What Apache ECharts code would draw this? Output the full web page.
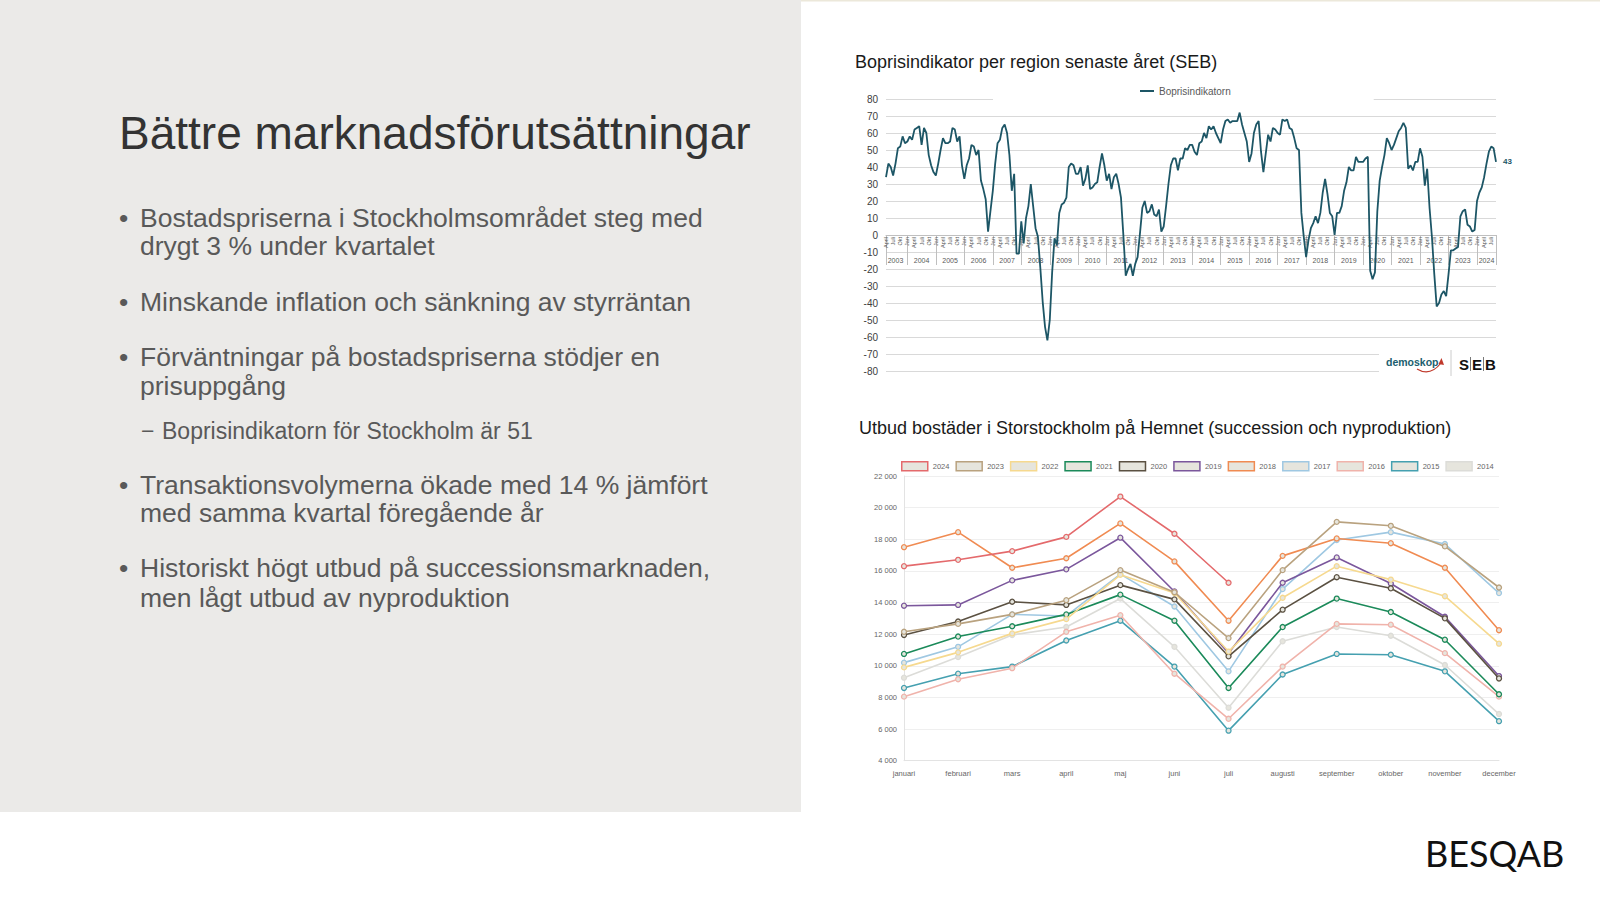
<!DOCTYPE html>
<html><head><meta charset="utf-8">
<script src="https://cdn.jsdelivr.net/npm/echarts/dist/echarts.min.js"></script>
<style>html,body{margin:0;padding:0;background:#fff}#c{width:1600px;height:900px}</style>
</head><body><div id="c"></div>
<script>
// ---------- Top chart: Boprisindikatorn (monthly, Apr 2003 - Sep 2024) ----------
const monthNamesTop = ['Jan','Feb','Mars','April','Maj','Juni','Juli','Aug','Sep','Okt','Nov','Dec'];
const bopFirstYear = 2003;
const bopFirstMonth = 4;
const bop2003 = [34, 42, 40, 35, 42, 51, 52, 58, 54];
const bop2004 = [55, 58, 56, 62, 63, 64, 53, 63, 60, 47, 41, 37];
const bop2005 = [35, 42, 50, 57, 54, 54, 55, 63, 62, 55, 58, 41];
const bop2006 = [33, 41, 45, 53, 52, 47, 50, 32, 27, 21, 2, 14];
const bop2007 = [26, 42, 54, 56, 63, 65, 60, 47, 26, 36, -11, -11];
const bop2008 = [8, -5, 10, 17, 30, 17, 4, -1, -19, -39, -54, -62];
const bop2009 = [-50, -22, -2, -6, 13, 18, 19, 22, 40, 42, 41, 36];
const bop2010 = [36, 40, 29, 33, 41, 27, 28, 30, 31, 40, 48, 41];
const bop2011 = [32, 36, 27, 34, 36, 30, 22, 0, -24, -20, -17, -24];
const bop2012 = [-17, -13, 1, 16, 20, 13, 14, 18, 12, 11, 15, 2];
const bop2013 = [5, 17, 30, 41, 45, 45, 38, 45, 45, 51, 50, 53];
const bop2014 = [53, 49, 47, 54, 55, 60, 57, 64, 62, 64, 60, 57];
const bop2015 = [54, 62, 67, 68, 66, 67, 67, 67, 72, 65, 60, 55];
const bop2016 = [43, 48, 60, 65, 67, 49, 37, 48, 59, 55, 63, 62];
const bop2017 = [60, 59, 68, 67, 68, 63, 62, 57, 51, 50, 13, -1];
const bop2018 = [-13, -3, 4, 7, 11, 7, 13, 25, 33, 24, 13, 11];
const bop2019 = [0, 13, 13, 17, 26, 31, 40, 38, 38, 46, 43, 43];
const bop2020 = [43, 45, 46, -21, -26, -22, 14, 32, 40, 47, 57, 54];
const bop2021 = [50, 53, 57, 61, 63, 66, 63, 39, 41, 38, 43, 43];
const bop2022 = [51, 46, 29, 39, 16, -1, -23, -42, -40, -35, -33, -36];
const bop2023 = [-23, -9, -9, -8, -7, 11, 14, 15, 6, 5, 2, 3];
const bop2024 = [20, 25, 28, 34, 42, 49, 52, 51, 43];
const bopYearly = [bop2003, bop2004, bop2005, bop2006, bop2007, bop2008, bop2009, bop2010,
  bop2011, bop2012, bop2013, bop2014, bop2015, bop2016, bop2017, bop2018, bop2019, bop2020,
  bop2021, bop2022, bop2023, bop2024];

// ---------- Bottom chart: Hemnet supply ----------
const hemMonths = ['januari','februari','mars','april','maj','juni','juli','augusti','september','oktober','november','december'];
const hemYears = ['2024','2023','2022','2021','2020','2019','2018','2017','2016','2015','2014'];
const hemColors = ['#e46a6c','#b9a27f','#f6d98f','#1b8a5a','#5b5142','#7b579c','#f08b52','#9fc8e2','#f0b3ab','#45a0b0','#dcdcd8'];
const hem2024 = [16300, 16700, 17250, 18150, 20700, 18350, 15250];
const hem2023 = [12150, 12650, 13250, 14150, 16050, 14650, 11750, 16050, 19100, 18850, 17550, 14950];
const hem2022 = [9900, 10850, 12050, 12950, 15750, 14600, 10900, 14300, 16300, 15450, 14400, 11400];
const hem2021 = [10750, 11850, 12500, 13250, 14500, 12850, 8600, 12450, 14250, 13400, 11650, 8200];
const hem2020 = [11950, 12800, 14050, 13850, 15100, 14200, 10600, 13550, 15600, 14900, 13000, 9200];
const hem2019 = [13800, 13850, 15400, 16100, 18100, 14700, 10800, 15250, 16850, 15200, 13100, 9350];
const hem2018 = [17500, 18450, 16200, 16800, 19000, 16600, 12850, 16950, 18050, 17750, 16200, 12250];
const hem2017 = [10200, 11200, 13250, 13150, 15800, 13750, 9650, 14850, 17950, 18450, 17700, 14600];
const hem2016 = [8050, 9150, 9850, 12150, 13200, 9500, 6650, 9950, 12650, 12600, 10800, 8050];
const hem2015 = [8600, 9500, 9950, 11600, 12850, 9950, 5900, 9450, 10750, 10700, 9650, 6500];
const hem2014 = [9250, 10550, 11950, 12450, 14250, 11200, 7350, 11550, 12450, 11900, 10050, 6950];
const hemSeriesValues = [hem2024, hem2023, hem2022, hem2021, hem2020, hem2019, hem2018, hem2017, hem2016, hem2015, hem2014];

// ---------- Slide text ----------
const slideTitle = 'Bättre marknadsförutsättningar';
const bulletLines = [
  ['•', 'Bostadspriserna i Stockholmsområdet steg med', 218],
  ['', 'drygt 3 % under kvartalet', 246],
  ['•', 'Minskande inflation och sänkning av styrräntan', 302],
  ['•', 'Förväntningar på bostadspriserna stödjer en', 357],
  ['', 'prisuppgång', 386],
  ['•', 'Transaktionsvolymerna ökade med 14 % jämfört', 485],
  ['', 'med samma kvartal föregående år', 513],
  ['•', 'Historiskt högt utbud på successionsmarknaden,', 568],
  ['', 'men lågt utbud av nyproduktion', 598]
];
const subBullet = ['−', 'Boprisindikatorn för Stockholm är 51', 431];

// ---------- build ----------
const bopValues = [].concat(...bopYearly);
const bopCats = [];
{
  let y = bopFirstYear, m = bopFirstMonth;
  for (let i = 0; i < bopValues.length; i++) {
    bopCats.push(y + '-' + m);
    m++; if (m > 12) { m = 1; y++; }
  }
}
const lastIdx = bopCats.length - 1;
const janIdx = new Set();
const yearMid = new Set();
{
  let s = 0;
  bopYearly.forEach((arr) => {
    const e = s + arr.length - 1;
    if (s > 0) janIdx.add(s);
    const lb = s === 0 ? 0 : s - 0.5;
    const rb = e === lastIdx ? lastIdx : e + 0.5;
    yearMid.add(Math.round((lb + rb) / 2));
    s = e + 1;
  });
}
janIdx.add(0); janIdx.add(lastIdx);

const FONT = "'Liberation Sans', Arial, sans-serif";
const chart = echarts.init(document.getElementById('c'), null, {renderer: 'svg'});

const T = (x, y, text, size, fill, extra) => Object.assign({type: 'text', x: x, y: y,
  style: Object.assign({text: text, fontSize: size, fontFamily: FONT, fill: fill, verticalAlign: 'middle', textVerticalAlign: 'middle'}, extra || {})});

const graphics = [
  {type: 'rect', shape: {x: 0, y: 0, width: 801, height: 812}, style: {fill: '#ebeae8'}, z: 0, silent: true},
  {type: 'rect', shape: {x: 801, y: 0, width: 799, height: 1.5}, style: {fill: '#ece8da'}, z: 0, silent: true},
  T(119, 133, slideTitle, 46, '#333333'),
  T(855, 62, 'Boprisindikator per region senaste året (SEB)', 18, '#1a1a1a'),
  T(859, 428, 'Utbud bostäder i Storstockholm på Hemnet (succession och nyproduktion)', 18, '#1a1a1a'),
  {type: 'rect', shape: {x: 1379, y: 345, width: 125, height: 36}, style: {fill: '#ffffff'}, z: 50, silent: true},
  Object.assign(T(1386, 362, 'demoskop', 10.5, '#1b5e6e', {fontWeight: 'bold'}), {z: 51}),
  {type: 'bezierCurve', z: 51, shape: {x1: 1417, y1: 369, x2: 1441, y2: 363, cpx1: 1430, cpy1: 377}, style: {fill: 'none', stroke: '#c0392b', lineWidth: 1.2}},
  {type: 'polygon', z: 51, shape: {points: [[1438.5, 364], [1441.5, 358], [1444, 365]]}, style: {fill: '#c0392b'}},
  {type: 'line', z: 51, shape: {x1: 1451, y1: 350, x2: 1451, y2: 376}, style: {stroke: '#cccccc', lineWidth: 1}},
  Object.assign(T(1459, 364, 'S', 15, '#111', {fontWeight: 'bold'}), {z: 51}),
  {type: 'line', z: 51, shape: {x1: 1470.5, y1: 357, x2: 1470.5, y2: 371}, style: {stroke: '#555', lineWidth: 0.8}},
  Object.assign(T(1472, 364, 'E', 15, '#111', {fontWeight: 'bold'}), {z: 51}),
  {type: 'line', z: 51, shape: {x1: 1483.5, y1: 357, x2: 1483.5, y2: 371}, style: {stroke: '#555', lineWidth: 0.8}},
  Object.assign(T(1485, 364, 'B', 15, '#111', {fontWeight: 'bold'}), {z: 51}),
  T(1425, 853, 'BESQAB', 36, '#111111', {fontFamily: "Lato, 'DejaVu Sans', sans-serif", fontWeight: 'normal'})
];
bulletLines.forEach(([b, t, y]) => {
  if (b) graphics.push(T(119, y, b, 26.5, '#595959'));
  graphics.push(T(140, y, t, 26.5, '#595959'));
});
graphics.push(T(141, subBullet[2], subBullet[0], 23, '#595959'));
graphics.push(T(162, subBullet[2], subBullet[1], 23, '#595959'));

const fmtThousands = (v) => String(v).replace(/\B(?=(\d{3})+(?!\d))/g, ' ');

const hemSeries = hemYears.map((yr, k) => ({
  type: 'line', name: yr, xAxisIndex: 2, yAxisIndex: 2,
  data: hemSeriesValues[k],
  symbol: 'circle', symbolSize: 5, showSymbol: true,
  lineStyle: {width: 1.6, color: hemColors[k]},
  itemStyle: {color: '#e6e5dd', borderColor: hemColors[k], borderWidth: 1.3},
  z: 20 - k, emphasis: {disabled: true}
}));

chart.setOption({
  animation: false,
  textStyle: {fontFamily: FONT},
  graphic: graphics,
  legend: [
    {data: ['Boprisindikatorn'], left: 993, top: 81, padding: [5, 143, 5, 147], backgroundColor: '#ffffff',
     icon: 'rect', itemWidth: 14, itemHeight: 2, textStyle: {fontSize: 10, color: '#595959', fontFamily: FONT}, z: 10},
    {data: hemYears.map((yr, k) => ({name: yr, icon: 'rect', itemStyle: {color: '#e6e5dd', borderColor: hemColors[k], borderWidth: 1.5}})),
     left: 901, top: 461, padding: 0, itemWidth: 26, itemHeight: 9, itemGap: 6,
     textStyle: {fontSize: 7.5, color: '#666666', fontFamily: FONT}}
  ],
  grid: [
    {left: 886, width: 610, top: 99, height: 272},
    {left: 886, width: 610, top: 99, height: 136},
    {left: 904, width: 595, top: 476, height: 284.7}
  ],
  xAxis: [
    {type: 'category', gridIndex: 0, data: bopCats, boundaryGap: false,
     axisLine: {onZero: true, lineStyle: {color: '#bfbfbf', width: 1}},
     axisTick: {show: true, length: 30, interval: (i) => janIdx.has(i), lineStyle: {color: '#bfbfbf'}},
     axisLabel: {show: false}},
    {type: 'category', gridIndex: 1, position: 'bottom', offset: 0, data: bopCats, boundaryGap: false,
     axisLine: {show: false}, axisTick: {show: false},
     axisLabel: {fontSize: 7, color: '#595959', margin: 22, interval: (i) => yearMid.has(i),
       formatter: (v) => v.split('-')[0]}},
    {type: 'category', gridIndex: 2, data: hemMonths, boundaryGap: false,
     axisLine: {lineStyle: {color: '#e3e3e3'}}, axisTick: {show: false},
     axisLabel: {fontSize: 7.5, color: '#666666', margin: 9}},
    {type: 'category', gridIndex: 1, position: 'bottom', offset: 0, data: bopCats, boundaryGap: false,
     axisLine: {show: false}, axisTick: {show: false},
     axisLabel: {rotate: 90, fontSize: 5.5, color: '#595959', margin: 2, interval: (i) => i % 3 === 0 || i === lastIdx,
       formatter: (v) => monthNamesTop[parseInt(v.split('-')[1], 10) - 1]}}
  ],
  yAxis: [
    {type: 'value', gridIndex: 0, min: -80, max: 80, interval: 10,
     axisLine: {show: false}, axisTick: {show: false},
     axisLabel: {fontSize: 10, color: '#404040', margin: 8},
     splitLine: {lineStyle: {color: '#d9d9d9', width: 1}}},
    {type: 'value', gridIndex: 1, min: 0, max: 1, show: false},
    {type: 'value', gridIndex: 2, min: 4000, max: 22000, interval: 2000,
     axisLine: {show: true, lineStyle: {color: '#e3e3e3'}}, axisTick: {show: false},
     axisLabel: {fontSize: 7.5, color: '#666666', margin: 7, formatter: fmtThousands},
     splitLine: {lineStyle: {color: '#efefef', width: 1}}}
  ],
  series: [
    {type: 'line', name: 'Boprisindikatorn', xAxisIndex: 0, yAxisIndex: 0, data: bopValues,
     symbol: 'none', lineStyle: {width: 1.8, color: '#1d5666'}, itemStyle: {color: '#1d5666'},
     endLabel: {show: true, formatter: (p) => String(p.value), color: '#1d5666', fontSize: 8, fontWeight: 'bold', distance: 7},
     z: 3, emphasis: {disabled: true}}
  ].concat(hemSeries)
});
</script></body></html>
